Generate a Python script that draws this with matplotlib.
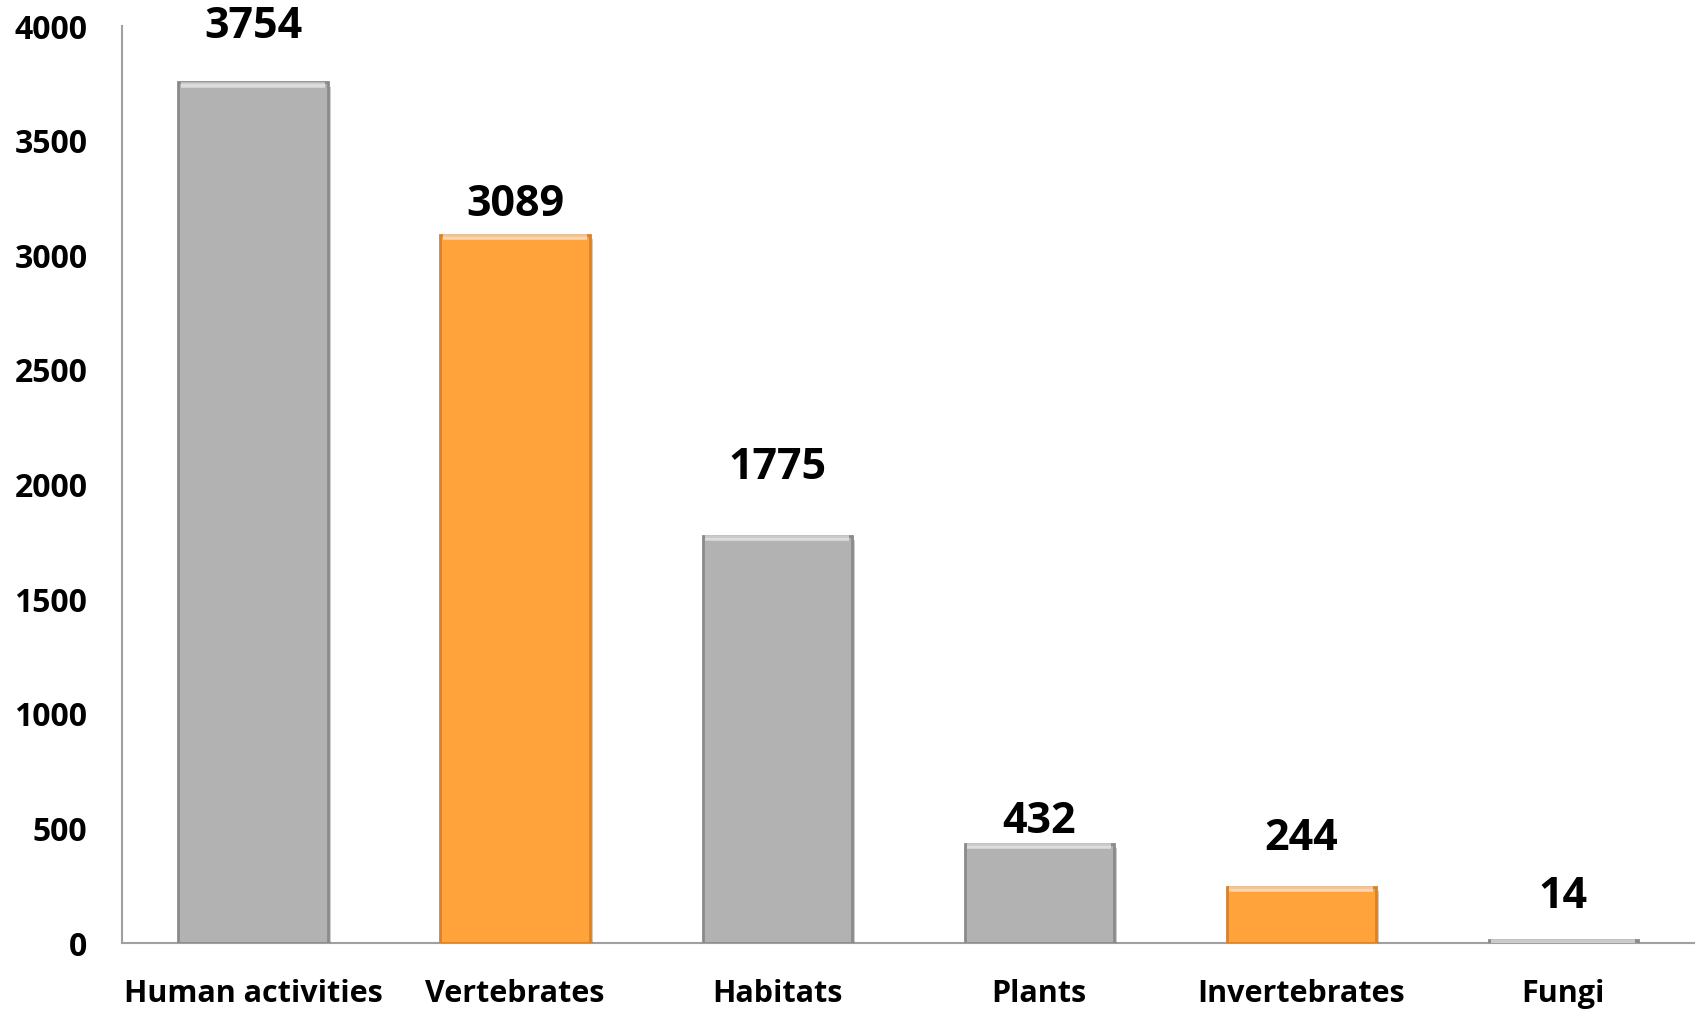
import matplotlib.pyplot as plt
import matplotlib.patheffects as pe

categories = ["Human activities", "Vertebrates", "Habitats", "Plants", "Invertebrates", "Fungi"]
counts = [3754, 3089, 1775, 432, 244, 14]
bar_colors = ["#B2B2B2", "#FFA33A", "#B2B2B2", "#B2B2B2", "#FFA33A", "#B2B2B2"]
edge_colors = ["#8A8A8A", "#D9822A", "#8A8A8A", "#8A8A8A", "#D9822A", "#8A8A8A"]
# label heights above each bar (value units), as in the original layout
label_offsets = [246, 133, 300, 96, 214, 189]
yticks = [0, 500, 1000, 1500, 2000, 2500, 3000, 3500, 4000]

plt.rcParams['font.family'] = ['Open Sans', 'DejaVu Sans']
plt.rcParams['font.weight'] = 'bold'

fig = plt.figure(figsize=(16.96, 10.09), dpi=100)
ax = fig.add_axes([0.072, 0.0654, 0.927, 0.9088])

x = range(len(categories))
bars = ax.bar(x, counts, width=0.57, color=bar_colors, edgecolor=edge_colors,
              linewidth=2, zorder=3)
for b in bars:
    b.set_path_effects([pe.SimplePatchShadow(offset=(2, -3), alpha=0.25), pe.Normal()])
    # light bevel at top of bar
    h = b.get_height()
    ax.plot([b.get_x() + 0.01, b.get_x() + b.get_width() - 0.01], [h - 10, h - 10],
            color="white", alpha=0.55, lw=4, zorder=4, solid_capstyle='butt')

for i, (v, off) in enumerate(zip(counts, label_offsets)):
    ax.text(i, v + off, str(v), ha='center', va='center', fontsize=31,
            fontweight='bold', color='black')

ax.set_xlim(-0.5, len(categories) - 0.5)
ax.set_ylim(0, 4000)
ax.set_yticks(yticks)
ax.set_yticklabels([str(t) for t in yticks], fontsize=23, fontweight='bold')
ax.set_xticks(list(x))
ax.set_xticklabels(categories, fontsize=22, fontweight='bold')
ax.tick_params(axis='y', length=0, pad=25)
ax.tick_params(axis='x', length=0, pad=26)

for s in ['top', 'right']:
    ax.spines[s].set_visible(False)
ax.spines['left'].set_color('#A0A0A0')
ax.spines['bottom'].set_color('#A0A0A0')
ax.spines['left'].set_linewidth(1.5)
ax.spines['bottom'].set_linewidth(1.5)

fig.savefig("out.png", dpi=100)
